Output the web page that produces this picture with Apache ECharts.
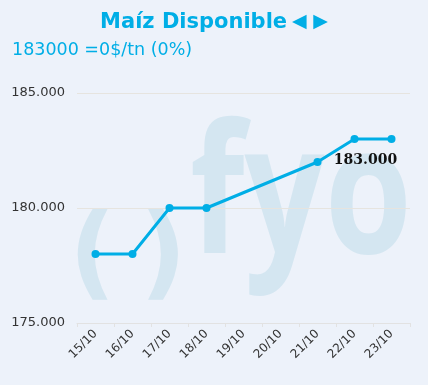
<!DOCTYPE html>
<html><head><meta charset="utf-8">
<script src="https://cdn.jsdelivr.net/npm/echarts@6/dist/echarts.min.js"></script>
<style>html,body{margin:0;padding:0;background:#edf2fa;}#c{width:428px;height:385px;}</style>
</head><body><div id="c"></div>
<script>
var categories = ['15/10','16/10','17/10','18/10','19/10','20/10','21/10','22/10','23/10'];
var values = [178000, 178000, 180000, 180000, null, null, 182000, 183000, 183000];
var yTicks = [175000, 180000, 185000];
var titleMain = 'Maíz Disponible';
var titleArrows = '◀ ▶';
var subtitleText = '183000 =0$/tn (0%)';
var labelIndex = 7;

function fmtDots(v){ return Math.round(v).toString().replace(/\B(?=(\d{3})+(?!\d))/g,'.'); }

// watermark sizing
var mc = document.createElement('canvas').getContext('2d');
var wmFont = 'bold 180px "Open Sans"';
mc.font = wmFont;
var wmW = mc.measureText('fyo').width;
var wmScale = 222 / wmW;

var chart = echarts.init(document.getElementById('c'), null, {renderer:'canvas'});
var blue = '#00aee6';
chart.setOption({
  backgroundColor: '#edf2fa',
  animation: false,
  title: [
    {text: '{m|' + titleMain + '} {a|' + titleArrows + '}', left: 'center', top: 7,
     textStyle:{rich:{
       m:{color: blue, fontSize: 21, fontWeight:'bold', fontFamily:'DejaVu Sans'},
       a:{color: blue, fontSize: 19, fontFamily:'DejaVu Sans'}
     }}},
    {text: subtitleText, left: 7, top: 36, textStyle:{color: blue, fontSize: 17.5, fontWeight:'normal', fontFamily:'DejaVu Sans'}}
  ],
  graphic: [
    {type:'text', x: 69, y: 208, silent:true, z:-1, style:{text:'(', font:'bold 102px "DejaVu Sans"', fill:'#d4e6f1'}},
    {type:'text', x: 140, y: 208, silent:true, z:-1, style:{text:')', font:'bold 102px "DejaVu Sans"', fill:'#d4e6f1'}},
    {type:'text', x: 190, y: 112, scaleX: wmScale, silent:true, z:-1, style:{text:'fyo', font: wmFont, fill:'#d4e6f1'}}
  ],
  grid: {left: 77, right: 18, top: 93, bottom: 62},
  xAxis: {
    type:'category', data: categories, boundaryGap: true,
    axisLine:{lineStyle:{color:'#e2e2e2'}},
    axisTick:{show:true, lineStyle:{color:'#e2e2e2'}, length:4},
    axisLabel:{rotate:45, color:'#333', fontSize:12, fontFamily:'DejaVu Sans', margin:9}
  },
  yAxis: {
    type:'value', min: yTicks[0], max: yTicks[yTicks.length-1], interval: yTicks[1]-yTicks[0],
    axisLine:{show:false}, axisTick:{show:false},
    splitLine:{lineStyle:{color:'#e6e4df'}},
    axisLabel:{color:'#333', fontSize:13, fontFamily:'DejaVu Sans', margin:12, formatter: function(v){return fmtDots(v);}}
  },
  series: [{
    type:'line', data: values.map(function(v,i){
      if(i===labelIndex) return {value:v, label:{show:true, position:'bottom', offset:[11,5], formatter:function(p){return fmtDots(p.value);}, color:'#111', fontSize:14, fontWeight:'bold', fontFamily:'DejaVu Serif'}};
      return v;
    }),
    connectNulls: true,
    symbol:'circle', symbolSize: 8,
    lineStyle:{color: blue, width: 3},
    itemStyle:{color: blue}
  }]
});
</script></body></html>
